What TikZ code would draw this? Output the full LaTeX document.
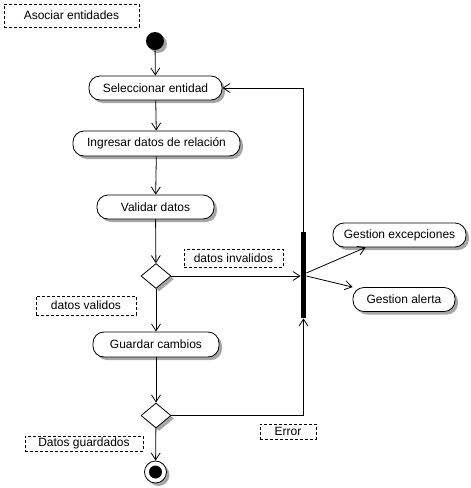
\documentclass[tikz,border=0pt]{standalone}
\usepackage{fontspec}
\setmainfont{Liberation Sans}
\usetikzlibrary{arrows.meta,shapes.geometric,shadows,calc}
\begin{document}
\begin{tikzpicture}[x=1pt,y=-1pt,
  sh/.style={drop shadow={shadow xshift=3pt,shadow yshift=-3pt,fill=black!35,opacity=1}},
  txt/.style={font=\fontsize{12}{14}\selectfont},
  act/.style={draw,rounded corners=11pt,fill=white,sh,inner sep=0pt,txt},
  note/.style={draw,dash pattern=on 3pt off 2pt,inner sep=0pt,txt},
  dec/.style={draw,diamond,fill=white,sh,inner sep=0pt,minimum width=30pt,minimum height=25pt},
  arr/.style={-{Straight Barb[length=7pt,width=9pt]}},
  line width=0.8pt]
\useasboundingbox (0,0) rectangle (471,488);
% notes
\node[note,minimum width=135pt,minimum height=23pt] (n1) at (71.5,15.5) {Asociar entidades};
\node[note,minimum width=99pt,minimum height=18pt] (ninv) at (233.5,258) {datos invalidos};
\node[note,minimum width=100pt,minimum height=19pt] (nval) at (86,305.5) {datos validos};
\node[note,minimum width=56pt,minimum height=15pt] (nerr) at (288,431.5) {Error};
\node[note,minimum width=118pt,minimum height=15pt] (ngua) at (84,443.5) {Datos guardados};
% start
\node[circle,fill=black,sh,minimum size=18pt,inner sep=0pt] (start) at (155,41) {};
% activities
\node[act,minimum width=133pt,minimum height=24pt] (sel) at (155.5,88) {Seleccionar entidad};
\node[act,minimum width=167pt,minimum height=25pt] (ing) at (156.5,143.5) {Ingresar datos de relación};
\node[act,minimum width=117pt,minimum height=24pt] (val) at (155.5,207) {Validar datos};
\node[dec] (d1) at (156,276) {};
\node[act,minimum width=126pt,minimum height=25pt] (gua) at (156,344.5) {Guardar cambios};
\node[dec] (d2) at (156,415.5) {};
\node[circle,draw,fill=white,sh,minimum size=22pt,inner sep=0pt] (end) at (155.5,472) {};
\node[circle,fill=black,minimum size=13pt,inner sep=0pt] (endin) at (end.center) {};
% bar
\node[fill=black,minimum width=5pt,minimum height=86pt,inner sep=0pt] (bar) at (303.5,275) {};
\node[act,minimum width=133pt,minimum height=24pt] (exc) at (399.5,235) {Gestion excepciones};
\node[act,minimum width=102pt,minimum height=24pt] (ale) at (404,299.5) {Gestion alerta};
% connectors
\draw[arr] (start) -- (sel);
\draw[arr] (sel) -- (ing);
\draw[arr] (ing) -- (val);
\draw[arr] (val) -- (d1);
\draw[arr] (d1.east) -- (d1.east -| bar.west);
\draw[arr] (bar.north) |- (sel.east);
\draw[arr] ($(bar.east)+(0,-2)$) -- ($(exc.south west)+(33,0)$);
\draw[arr] ($(bar.east)+(0,1)$) -- (ale.north west);
\draw[arr] (d1) -- (gua);
\draw[arr] (gua) -- (d2);
\draw[arr] (d2.east) -| (bar.south);
\draw[arr] (d2) -- (end);
\end{tikzpicture}
\end{document}
